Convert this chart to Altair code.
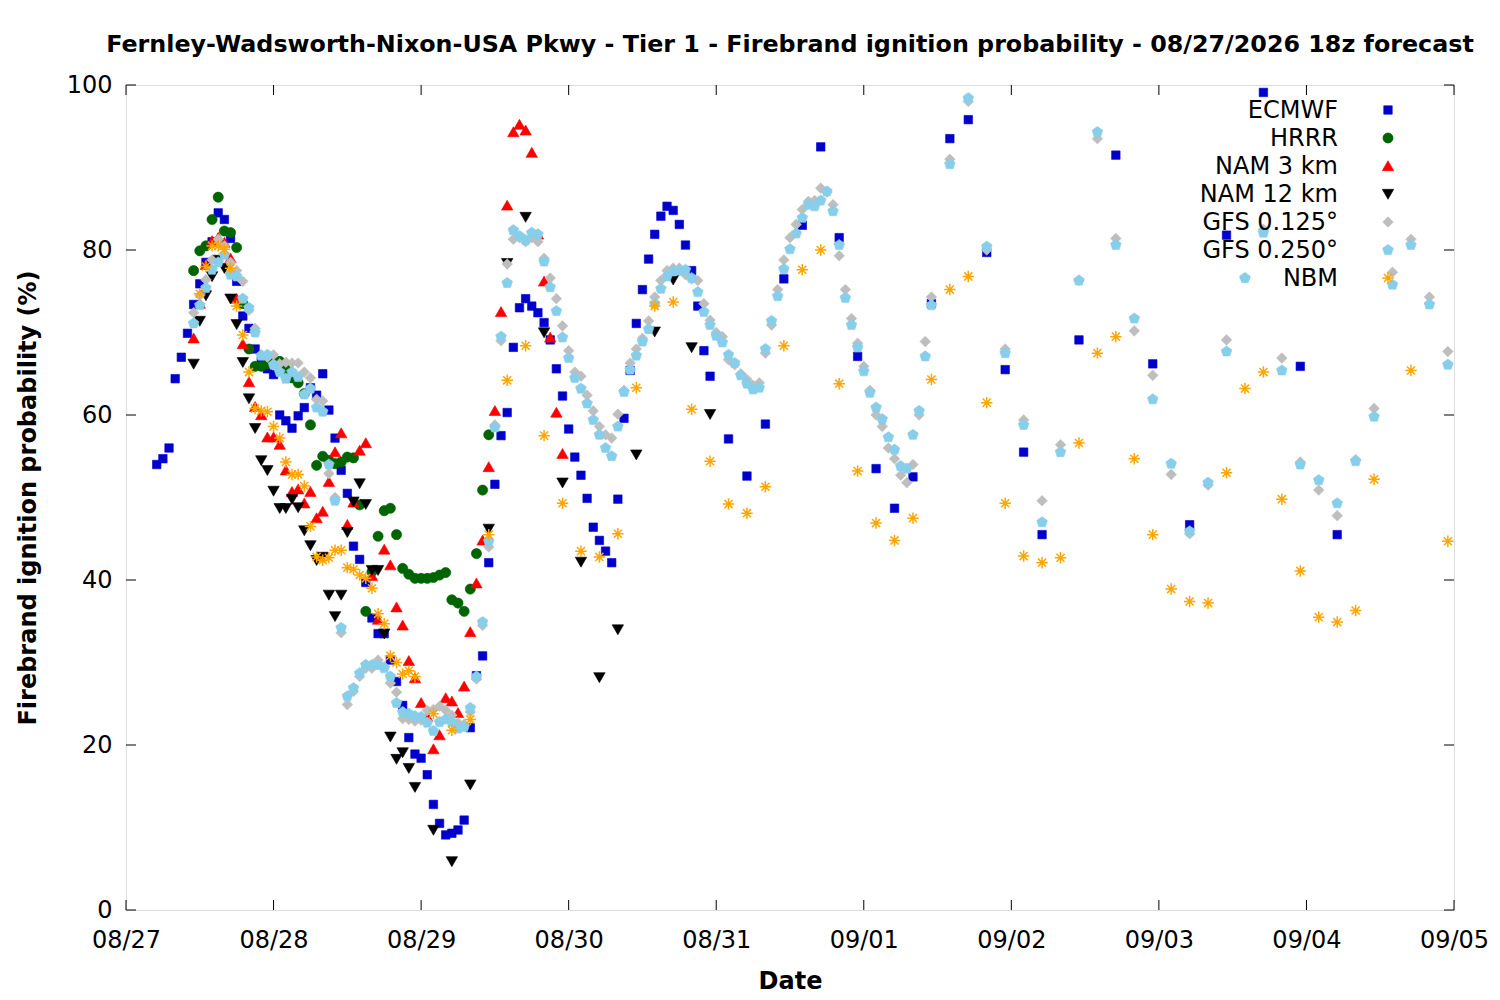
import altair as alt
import pandas as pd

SERIES = ["ECMWF", "HRRR", "NAM 3 km", "NAM 12 km", "GFS 0.125°", "GFS 0.250°", "NBM"]
COLORS = ["#0000CC", "#006400", "#FF0000", "#000000", "#BEBEBE", "#87CEEB", "#FFA500"]
FILLS = COLORS[:-1] + ["transparent"]
STROKE_W = [0.6, 0.6, 0.6, 0.6, 0.6, 0.6, 1.5]
CIRCLE = "M-1.2,0A1.2,1.2 0 1,0 1.2,0A1.2,1.2 0 1,0 -1.2,0Z"
TRI_UP = "M0,-1.25L1.35,1.1L-1.35,1.1Z"
TRI_DOWN = "M0,1.25L1.35,-1.1L-1.35,-1.1Z"
DIAMOND = "M0,-1.25L1.25,0L0,1.25L-1.25,0Z"
PENTAGON = "M0,-1.32L1.26,-0.41L0.78,1.07L-0.78,1.07L-1.26,-0.41Z"
ASTERISK = "M-1.35,0L1.35,0M0,-1.35L0,1.35M-0.95,-0.95L0.95,0.95M-0.95,0.95L0.95,-0.95"
SHAPES = ["square", CIRCLE, TRI_UP, TRI_DOWN, DIAMOND, PENTAGON, ASTERISK]

# forecast hours after 08/27 00 local
ecmwf_hours = list(range(5, 96)) + list(range(98, 150, 3)) + list(range(155, 198, 6))
ecmwf_vals = [
    54.0, 54.7, 56.0, 64.4, 67.0, 69.9, 73.4, 75.9, 78.5, 81.0,
    84.5, 83.7, 81.4, 76.2, 72.0, 70.5, 68.0, 66.5, 65.6, 64.9,
    60.0, 59.3, 58.4, 59.9, 60.9, 63.3, 62.4, 65.0, 60.6, 57.2,
    53.3, 50.5, 44.1, 42.5, 39.7, 35.4, 33.5, 33.5, 30.3, 27.7,
    24.8, 20.9, 18.9, 18.4, 16.4, 12.8, 10.5, 9.1, 9.3, 9.7,
    10.9, 22.1, 28.4, 30.8, 42.1, 51.6, 57.5, 60.3, 68.2, 73.0,
    74.1, 73.2, 72.4, 71.2, 69.1, 65.6, 62.3, 58.3, 54.9, 52.7,
    49.9, 46.4, 44.8, 43.5, 42.1, 49.8, 59.6, 65.4, 71.1, 75.2,
    78.9, 81.9, 84.1, 85.3, 84.8, 83.1, 80.6, 77.5, 73.2, 67.8,
    64.7,
    57.1, 52.6, 58.9, 76.5, 83.0, 92.5, 81.5, 67.1, 53.5, 48.7,
    52.5, 73.5, 93.5, 95.8, 79.7, 65.5, 55.5, 45.5,
    69.1, 91.5, 66.2, 46.7, 81.8, 99.1, 65.9, 45.5,
]

hrrr_hours = list(range(11, 60))
hrrr_vals = [
    77.5, 79.9, 80.5, 83.7, 86.4, 82.3, 82.1, 80.3, 73.5, 68.0,
    65.9, 65.9, 66.2, 66.4, 66.5, 65.5, 64.5, 63.9, 62.6, 58.8,
    53.9, 55.0, 54.5, 54.1, 54.3, 54.9, 54.8, 49.1, 36.2, 41.0,
    45.3, 48.4, 48.7, 45.5, 41.4, 40.7, 40.2, 40.2, 40.2, 40.3,
    40.6, 40.9, 37.6, 37.2, 36.2, 38.9, 43.2, 50.9, 57.6,
]

nam3_hours = list(range(11, 72))
nam3_vals = [
    69.3, 73.5, 78.2, 81.1, 81.5, 80.9, 79.0, 74.1, 68.6, 64.0,
    61.0, 60.0, 57.3, 57.3, 56.4, 53.3, 50.7, 51.0, 49.3, 50.7,
    47.5, 48.3, 51.9, 55.5, 57.8, 46.7, 49.4, 55.7, 56.6, 40.5,
    35.2, 43.7, 41.8, 36.7, 34.5, 30.2, 28.1, 25.1, 23.4, 19.5,
    21.2, 25.7, 25.3, 23.9, 27.1, 33.7, 39.6, 44.8, 53.7, 60.5,
    72.5, 85.4, 94.3, 95.2, 94.5, 91.8, 81.9, 76.2, 69.4, 60.3,
    55.3,
]

nam12_hours = list(range(11, 48)) + list(range(50, 96, 3))
nam12_vals = [
    66.2, 71.4, 74.5, 76.8, 78.8, 77.8, 74.1, 71.0, 66.4, 62.0,
    58.4, 54.5, 53.3, 50.8, 48.7, 48.7, 49.8, 48.8, 46.0, 44.2,
    42.4, 42.8, 38.2, 35.6, 38.2, 45.8, 49.5, 51.7, 49.2, 41.2,
    41.2, 33.5, 21.0, 18.3, 19.1, 17.2, 14.9,
    9.7, 5.9, 15.2, 46.2, 78.4, 84.0, 70.0, 51.8, 42.2, 28.2,
    34.0, 55.2, 70.1, 76.4, 68.2, 60.1,
]

gfs_hours = list(range(11, 132)) + list(range(134, 216, 3))
gfs125_vals = [
    72.4, 74.5, 76.4, 78.8, 81.3, 80.5, 78.5, 77.5, 76.2, 72.7,
    70.5, 67.3, 67.0, 67.3, 66.2, 66.4, 66.3, 66.3, 65.2, 64.5,
    61.9, 61.7, 52.9, 50.0, 33.6, 24.9, 26.5, 28.3, 29.3, 29.3,
    30.3, 29.5, 27.5, 26.4, 23.2, 23.1, 22.9, 23.0, 24.2, 24.3,
    24.7, 24.2, 23.6, 22.7, 22.5, 24.0, 28.0, 34.5, 44.0, 58.8,
    69.0, 78.3, 81.3, 81.5, 81.0, 81.5, 81.0, 79.0, 76.6, 74.1,
    70.8, 67.8, 65.2, 64.7, 62.4, 60.5, 58.6, 57.6, 57.2, 60.1,
    63.0, 66.3, 68.0, 69.3, 71.4, 74.3, 76.3, 77.5, 77.8, 77.8,
    77.0, 76.5, 76.3, 73.5, 71.5, 70.0, 69.5, 66.7, 66.1, 65.0,
    64.3, 63.6, 63.9, 67.5, 70.9, 75.2, 78.8, 81.5, 83.1, 84.9,
    85.9, 86.0, 87.5, 87.0, 85.5, 79.3, 75.2, 71.7, 68.7, 65.9,
    63.0, 60.0, 58.6, 56.0, 54.7, 52.7, 51.8, 54.0, 60.0, 68.9, 74.3,
    91.0, 98.0, 80.0, 68.0, 59.4, 49.6, 56.4, 76.3, 93.5, 81.4,
    70.2, 64.8, 52.8, 45.6, 51.5, 69.1, 76.6, 82.5, 66.9, 54.3,
    50.9, 47.8, 54.6, 60.8, 77.3, 81.3, 74.3, 67.7,
]
gfs250_vals = [
    71.1, 73.3, 75.4, 77.6, 78.5, 79.4, 77.0, 76.8, 74.1, 73.0,
    70.0, 67.2, 67.3, 66.1, 65.2, 64.4, 65.2, 64.6, 62.5, 63.2,
    60.9, 60.4, 54.0, 49.6, 34.2, 25.9, 26.9, 28.7, 29.7, 29.7,
    29.7, 29.3, 28.3, 25.1, 24.0, 23.8, 23.5, 23.4, 22.7, 21.7,
    22.8, 23.1, 22.8, 22.0, 22.2, 24.5, 28.3, 34.9, 44.7, 58.5,
    69.5, 76.0, 82.4, 81.7, 81.2, 82.1, 81.9, 78.6, 75.5, 72.6,
    69.4, 66.9, 64.5, 63.2, 61.4, 59.4, 57.6, 56.0, 55.0, 58.6,
    62.8, 65.5, 67.2, 68.9, 70.4, 73.5, 75.3, 76.8, 77.4, 77.5,
    77.6, 76.6, 74.9, 72.5, 70.9, 69.6, 68.8, 67.3, 66.3, 64.8,
    63.8, 63.1, 63.3, 68.0, 71.4, 74.4, 77.7, 80.1, 82.0, 83.9,
    85.5, 85.3, 86.0, 87.1, 84.7, 80.6, 74.2, 70.9, 68.2, 65.3,
    62.7, 60.9, 59.5, 57.3, 55.8, 53.8, 53.5, 57.6, 60.5, 67.1, 73.3,
    90.4, 98.4, 80.4, 67.5, 58.8, 47.0, 55.5, 76.3, 94.3, 80.6,
    71.7, 61.9, 54.1, 45.9, 51.8, 67.7, 76.6, 82.1, 65.4, 54.0,
    52.1, 49.3, 54.4, 59.8, 75.8, 80.6, 73.4, 66.1,
]

nbm_hours = list(range(12, 48)) + list(range(50, 204, 3)) + [209, 215]
nbm_vals = [
    74.7, 78.0, 80.5, 80.5, 80.1, 77.8, 73.2, 69.7, 65.2, 60.8,
    60.5, 60.4, 58.6, 57.2, 54.3, 52.8, 52.8, 51.4, 46.5, 42.8,
    42.4, 42.7, 43.6, 43.6, 41.5, 41.3, 40.6, 40.2, 39.0, 35.9,
    34.7, 30.8, 30.0, 28.6, 29.0, 28.3,
    23.8, 21.8, 23.1, 45.5, 64.2, 68.4, 57.5, 49.3, 43.5, 42.8,
    45.6, 63.3, 73.2, 73.7, 60.7, 54.4, 49.2, 48.1, 51.3, 68.4,
    77.6, 80.0, 63.8, 53.2, 46.9, 44.8, 47.5, 64.3, 75.2, 76.8,
    61.5, 49.3, 42.9, 42.1, 42.7, 56.6, 67.5, 69.5, 54.7, 45.5,
    38.9, 37.4, 37.2, 53.0, 63.2, 65.2, 49.8, 41.1, 35.5, 34.9,
    36.3, 52.2,
    65.4, 44.7,
]

x_tick_days = ["2026-08-27", "2026-08-28", "2026-08-29", "2026-08-30", "2026-08-31",
               "2026-09-01", "2026-09-02", "2026-09-03", "2026-09-04", "2026-09-05"]
y_tick_vals = [0, 20, 40, 60, 80, 100]

BASE = pd.Timestamp("2026-08-27 00:00:00")
groups = [
    ("ECMWF", ecmwf_hours, ecmwf_vals),
    ("HRRR", hrrr_hours, hrrr_vals),
    ("NAM 3 km", nam3_hours, nam3_vals),
    ("NAM 12 km", nam12_hours, nam12_vals),
    ("GFS 0.125°", gfs_hours, gfs125_vals),
    ("GFS 0.250°", gfs_hours, gfs250_vals),
    ("NBM", nbm_hours, nbm_vals),
]
rows = []
for name, hrs, vals in groups:
    n = min(len(hrs), len(vals))
    for h, v in zip(hrs[:n], vals[:n]):
        t = (BASE + pd.Timedelta(hours=h)).strftime("%Y-%m-%dT%H:%M:%S")
        rows.append({"time": t, "prob": v, "series": name})
df = pd.DataFrame(rows)

W, H = 1328, 825
FONT = "DejaVu Sans"
FS = 24

xscale = alt.Scale(domain=[alt.DateTime(year=2026, month=8, date=27),
                           alt.DateTime(year=2026, month=9, date=5)], nice=False)
yscale = alt.Scale(domain=[0, 100], nice=False)
x_tick_dt = [alt.DateTime(year=2026, month=int(d[5:7]), date=int(d[8:10])) for d in x_tick_days]

shape_enc = alt.Shape("series:N", scale=alt.Scale(domain=SERIES, range=SHAPES), legend=None)
fill_enc = alt.Fill("series:N", scale=alt.Scale(domain=SERIES, range=FILLS), legend=None)
stroke_enc = alt.Stroke("series:N", scale=alt.Scale(domain=SERIES, range=COLORS), legend=None)
sw_enc = alt.StrokeWidth("series:N", scale=alt.Scale(type="ordinal", domain=SERIES, range=STROKE_W),
                         legend=None)

x_axis = alt.Axis(title="Date", format="%m/%d", values=x_tick_dt,
                  grid=False, ticks=False, tickSize=0, domain=False, labelPadding=18,
                  labelFontSize=FS, labelFont=FONT, labelColor="black", labelFlush=False,
                  titleFontSize=FS, titleFont=FONT, titleFontWeight="bold", titleColor="black",
                  titlePadding=17)

points = alt.Chart(df).mark_point(opacity=1, size=72).encode(
    x=alt.X("time:T", scale=xscale, axis=x_axis),
    y=alt.Y("prob:Q", scale=yscale,
            axis=alt.Axis(title="Firebrand ignition probability (%)", values=y_tick_vals,
                          grid=False, ticks=False, tickSize=0, domain=False, labelPadding=14,
                          labelFontSize=FS, labelFont=FONT, labelColor="black",
                          titleFontSize=FS, titleFont=FONT, titleFontWeight="bold", titleColor="black",
                          titlePadding=26)),
    shape=shape_enc, fill=fill_enc, stroke=stroke_enc, strokeWidth=sw_enc,
)

# legend: label on the left, symbol on the right (gnuplot style)
leg = pd.DataFrame({"series": SERIES})
leg_y = alt.Y("series:N", axis=None,
              scale=alt.Scale(type="point", domain=SERIES, range=[25, 193], padding=0))
legend_pts = alt.Chart(leg).mark_point(opacity=1, size=72).encode(
    x=alt.value(1262), y=leg_y,
    shape=shape_enc, fill=fill_enc, stroke=stroke_enc, strokeWidth=sw_enc)
legend_txt = alt.Chart(leg).mark_text(align="right", baseline="middle", font=FONT,
                                      fontSize=FS, color="black", dy=1).encode(
    x=alt.value(1212), y=leg_y, text="series:N")

xt = pd.DataFrame({"day": x_tick_days})
yt = pd.DataFrame({"v": y_tick_vals})
tick_x_bottom = alt.Chart(xt).mark_rule(color="black", strokeWidth=1).encode(
    x=alt.X("day:T", scale=xscale, axis=x_axis), y=alt.value(H), y2=alt.value(H - 10))
tick_x_top = alt.Chart(xt).mark_rule(color="black", strokeWidth=1).encode(
    x=alt.X("day:T", scale=xscale, axis=x_axis), y=alt.value(0), y2=alt.value(10))
tick_y_left = alt.Chart(yt).mark_rule(color="black", strokeWidth=1).encode(
    y=alt.Y("v:Q", scale=yscale, axis=None), x=alt.value(0), x2=alt.value(10))
tick_y_right = alt.Chart(yt).mark_rule(color="black", strokeWidth=1).encode(
    y=alt.Y("v:Q", scale=yscale, axis=None), x=alt.value(W - 10), x2=alt.value(W))

chart = alt.layer(
    tick_x_bottom, tick_x_top, tick_y_left, tick_y_right, points, legend_pts, legend_txt
).resolve_scale(y="independent").properties(
    width=W, height=H,
    title=alt.TitleParams(
        "Fernley-Wadsworth-Nixon-USA Pkwy - Tier 1 - Firebrand ignition probability - 08/27/2026 18z forecast",
        fontSize=23.8, font=FONT, fontWeight="bold", color="black", anchor="middle", offset=16),
    autosize=alt.AutoSizeParams(type="none"),
    padding={"left": 118, "top": 77, "right": 38, "bottom": 90},
).configure_view(stroke="black", strokeWidth=1).configure(background="white")

chart.save("out.html", embed_options={"renderer": "svg", "actions": False})
